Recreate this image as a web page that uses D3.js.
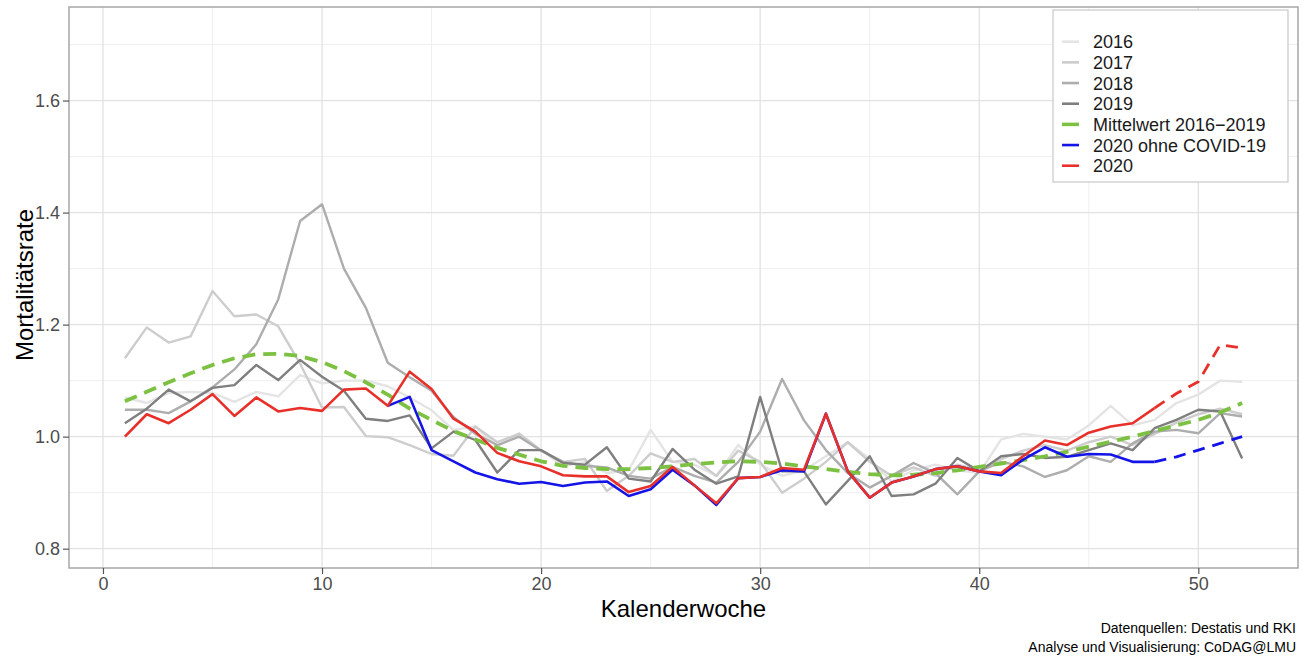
<!DOCTYPE html>
<html>
<head>
<meta charset="utf-8">
<script src="https://cdn.jsdelivr.net/npm/d3@7"></script>
<style>
  body { margin: 0; background: #fff; }
  text { font-family: "Liberation Sans", Arial, Helvetica, sans-serif; }
</style>
</head>
<body>
<svg id="chart"></svg>
<script>
const width = 1303;
const height = 657;

// Kalenderwochen 1..52
const weeks = d3.range(1, 53);

const y2016 = [1.07, 1.06, 1.078, 1.08, 1.078, 1.062, 1.08, 1.072, 1.11, 1.095, 1.10, 1.10, 1.09, 1.07, 1.047, 1.012, 1.018, 0.982, 1.006, 0.976, 0.947, 0.955,
  0.935, 0.94, 1.012, 0.955, 0.95, 0.93, 0.985, 0.95, 0.93, 0.94, 0.965, 0.99, 0.96, 0.92, 0.94, 0.95, 0.94, 0.935, 0.995, 1.005, 1.0, 0.995, 1.02, 1.055,
  1.02, 1.03, 1.06, 1.075, 1.10, 1.098];
const y2017 = [1.14, 1.195, 1.168, 1.179, 1.26, 1.215, 1.218, 1.197, 1.13, 1.052, 1.053, 1.001, 0.999, 0.985, 0.969, 0.966, 1.018, 0.99, 1.005, 0.975, 0.955, 0.96,
  0.903, 0.93, 0.97, 0.955, 0.96, 0.93, 0.975, 0.955, 0.90, 0.925, 0.955, 0.99, 0.955, 0.93, 0.945, 0.93, 0.95, 0.94, 0.96, 0.975, 0.985, 0.975, 0.99, 1.0,
  0.985, 1.005, 1.025, 1.04, 1.05, 1.04];
const y2018 = [1.048, 1.048, 1.042, 1.063, 1.088, 1.12, 1.165, 1.245, 1.385, 1.415, 1.30, 1.23, 1.132, 1.106, 1.082, 1.035, 1.005, 0.985, 1.0, 0.975, 0.955, 0.948,
  0.945, 0.93, 0.925, 0.946, 0.93, 0.918, 0.955, 1.009, 1.103, 1.029, 0.976, 0.935, 0.909, 0.93, 0.953, 0.935, 0.897, 0.938, 0.955, 0.947, 0.928, 0.94, 0.965,
  0.955, 0.988, 1.009, 1.012, 1.006, 1.042, 1.036];
const y2019 = [1.024, 1.05, 1.084, 1.063, 1.087, 1.092, 1.128, 1.101, 1.137, 1.107, 1.082, 1.032, 1.028, 1.038, 0.979, 1.009, 0.994, 0.936, 0.976, 0.976, 0.953, 0.95,
  0.981, 0.925, 0.92, 0.978, 0.941, 0.916, 0.929, 1.071, 0.938, 0.938, 0.879, 0.921, 0.965, 0.894, 0.897, 0.916, 0.962, 0.938, 0.965, 0.969, 0.962, 0.964, 0.976,
  0.988, 0.976, 1.015, 1.03, 1.048, 1.045, 0.961];
const yMean = [1.063, 1.08, 1.097, 1.113, 1.128, 1.14, 1.147, 1.148, 1.144, 1.133, 1.117, 1.097, 1.075, 1.05, 1.03, 1.01, 0.995, 0.98, 0.968, 0.956, 0.948, 0.944,
  0.942, 0.942, 0.944, 0.947, 0.951, 0.954, 0.956, 0.955, 0.952, 0.947, 0.942, 0.937, 0.933, 0.931, 0.932, 0.935, 0.94, 0.946, 0.952, 0.958, 0.965, 0.973, 0.982,
  0.991, 1.0, 1.01, 1.02, 1.03, 1.043, 1.06];
// 2020 ohne COVID-19 beginnt in KW 13
const yOhne = [null, null, null, null, null, null, null, null, null, null, null, null, 1.055, 1.071, 0.976, 0.956, 0.936, 0.924, 0.916, 0.919, 0.912, 0.918,
  0.92, 0.894, 0.906, 0.941, 0.913, 0.878, 0.926, 0.928, 0.94, 0.938, 1.041, 0.938, 0.891, 0.918, 0.929, 0.942, 0.947, 0.938, 0.931, 0.959, 0.981, 0.964, 0.969,
  0.968, 0.955, 0.955, 0.964, 0.976, 0.988, 1.0];
const y2020 = [1.0, 1.04, 1.024, 1.048, 1.076, 1.037, 1.07, 1.045, 1.051, 1.046, 1.084, 1.086, 1.055, 1.116, 1.085, 1.032, 1.009, 0.971, 0.956, 0.947, 0.931, 0.929,
  0.929, 0.901, 0.912, 0.946, 0.913, 0.881, 0.926, 0.928, 0.944, 0.941, 1.041, 0.938, 0.891, 0.918, 0.929, 0.942, 0.947, 0.938, 0.935, 0.965, 0.993, 0.985, 1.007,
  1.018, 1.024, 1.051, 1.077, 1.098, 1.164, 1.158];
const dashFrom = 48; // ab KW 48 gestrichelt (unvollständige Daten)

const xTicks = [0, 10, 20, 30, 40, 50];
const yTicks = [0.8, 1.0, 1.2, 1.4, 1.6];
const legendLabels = ["2016", "2017", "2018", "2019", "Mittelwert 2016\u22122019", "2020 ohne COVID-19", "2020"];
const legendColors = ["#e4e4e4", "#cdcdcd", "#adadad", "#7f7f7f", "#7cc142", "#1414e6", "#e8302a"];

const panel = { left: 69, right: 1298, top: 7, bottom: 568 };

const svg = d3.select("#chart")
    .attr("width", width)
    .attr("height", height);

const x = d3.scaleLinear().domain([-1.55, 54.55]).range([panel.left, panel.right]);
const y = d3.scaleLinear().domain([0.7655, 1.767]).range([panel.bottom, panel.top]);

// grid
const grid = svg.append("g");
const minorX = [5, 15, 25, 35, 45];
const minorY = [0.9, 1.1, 1.3, 1.5, 1.7];
grid.selectAll(".minx").data(minorX).enter().append("line")
    .attr("x1", d => x(d)).attr("x2", d => x(d))
    .attr("y1", panel.top).attr("y2", panel.bottom)
    .attr("stroke", "#efefef").attr("stroke-width", 1);
grid.selectAll(".miny").data(minorY).enter().append("line")
    .attr("x1", panel.left).attr("x2", panel.right)
    .attr("y1", d => y(d)).attr("y2", d => y(d))
    .attr("stroke", "#efefef").attr("stroke-width", 1);
grid.selectAll(".majx").data(xTicks).enter().append("line")
    .attr("x1", d => x(d)).attr("x2", d => x(d))
    .attr("y1", panel.top).attr("y2", panel.bottom)
    .attr("stroke", "#e2e2e2").attr("stroke-width", 1.3);
grid.selectAll(".majy").data(yTicks).enter().append("line")
    .attr("x1", panel.left).attr("x2", panel.right)
    .attr("y1", d => y(d)).attr("y2", d => y(d))
    .attr("stroke", "#e2e2e2").attr("stroke-width", 1.3);

// lines
const line = d3.line()
    .defined(d => d[1] != null)
    .x(d => x(d[0]))
    .y(d => y(d[1]));

const plot = svg.append("g");

function drawSeries(values, color, widthPx, dash) {
    plot.append("path")
        .datum(weeks.map((w, i) => [w, values[i]]))
        .attr("fill", "none")
        .attr("stroke", color)
        .attr("stroke-width", widthPx)
        .attr("stroke-linejoin", "round")
        .attr("stroke-dasharray", dash)
        .attr("d", line);
}

function drawSplit(values, color) {
    const solid = weeks.map((w, i) => [w, w <= dashFrom ? values[i] : null]);
    const dashed = weeks.map((w, i) => [w, w >= dashFrom ? values[i] : null]);
    plot.append("path").datum(solid)
        .attr("fill", "none").attr("stroke", color).attr("stroke-width", 2.6)
        .attr("stroke-linejoin", "round").attr("d", line);
    plot.append("path").datum(dashed)
        .attr("fill", "none").attr("stroke", color).attr("stroke-width", 2.8)
        .attr("stroke-dasharray", "12,8").attr("d", line);
}

drawSeries(y2016, legendColors[0], 2.4, null);
drawSeries(y2017, legendColors[1], 2.4, null);
drawSeries(y2018, legendColors[2], 2.4, null);
drawSeries(y2019, legendColors[3], 2.4, null);
drawSeries(yMean, legendColors[4], 3.8, "13,8");
drawSplit(yOhne, legendColors[5]);
drawSplit(y2020, legendColors[6]);

// panel border
svg.append("rect")
    .attr("x", panel.left).attr("y", panel.top)
    .attr("width", panel.right - panel.left).attr("height", panel.bottom - panel.top)
    .attr("fill", "none").attr("stroke", "#a6a6a6").attr("stroke-width", 1.5);

// axes
const xAxis = svg.append("g")
    .attr("transform", `translate(0,${panel.bottom})`)
    .call(d3.axisBottom(x).tickValues(xTicks).tickSize(6).tickPadding(3).tickFormat(d3.format("d")));
const yAxis = svg.append("g")
    .attr("transform", `translate(${panel.left},0)`)
    .call(d3.axisLeft(y).tickValues(yTicks).tickSize(6).tickPadding(3).tickFormat(d3.format(".1f")));
[xAxis, yAxis].forEach(a => {
    a.select(".domain").remove();
    a.selectAll(".tick line").attr("stroke", "#555").attr("stroke-width", 1.2);
    a.selectAll(".tick text")
        .attr("fill", "#4d4d4d")
        .style("font-size", "18px")
        .style("font-family", "'Liberation Sans', Arial, sans-serif");
});

svg.append("text")
    .attr("x", (panel.left + panel.right) / 2)
    .attr("y", 617)
    .attr("text-anchor", "middle")
    .style("font-size", "24px")
    .text("Kalenderwoche");

svg.append("text")
    .attr("transform", "translate(32.5,285) rotate(-90)")
    .attr("text-anchor", "middle")
    .style("font-size", "24px")
    .text("Mortalitätsrate");

// legend
const legend = svg.append("g");
legend.append("rect")
    .attr("x", 1053).attr("y", 10)
    .attr("width", 235).attr("height", 172)
    .attr("fill", "#fff").attr("stroke", "#c8c8c8").attr("stroke-width", 1.2);
const rows = legend.selectAll(".row").data(legendLabels).enter().append("g")
    .attr("transform", (d, i) => `translate(0,${41.7 + i * 20.67})`);
rows.append("line")
    .attr("x1", 1062).attr("x2", 1079)
    .attr("stroke", (d, i) => legendColors[i])
    .attr("stroke-width", (d, i) => i === 4 ? 3.5 : 2.6);
rows.append("text")
    .attr("x", 1093).attr("y", 6.5)
    .style("font-size", "18px")
    .attr("fill", "#1a1a1a")
    .text(d => d);

// caption
svg.append("text")
    .attr("x", 1296).attr("y", 633)
    .attr("text-anchor", "end")
    .style("font-size", "14px")
    .text("Datenquellen: Destatis und RKI");
svg.append("text")
    .attr("x", 1296).attr("y", 652)
    .attr("text-anchor", "end")
    .style("font-size", "14px")
    .text("Analyse und Visualisierung: CoDAG@LMU");
</script>
</body>
</html>
